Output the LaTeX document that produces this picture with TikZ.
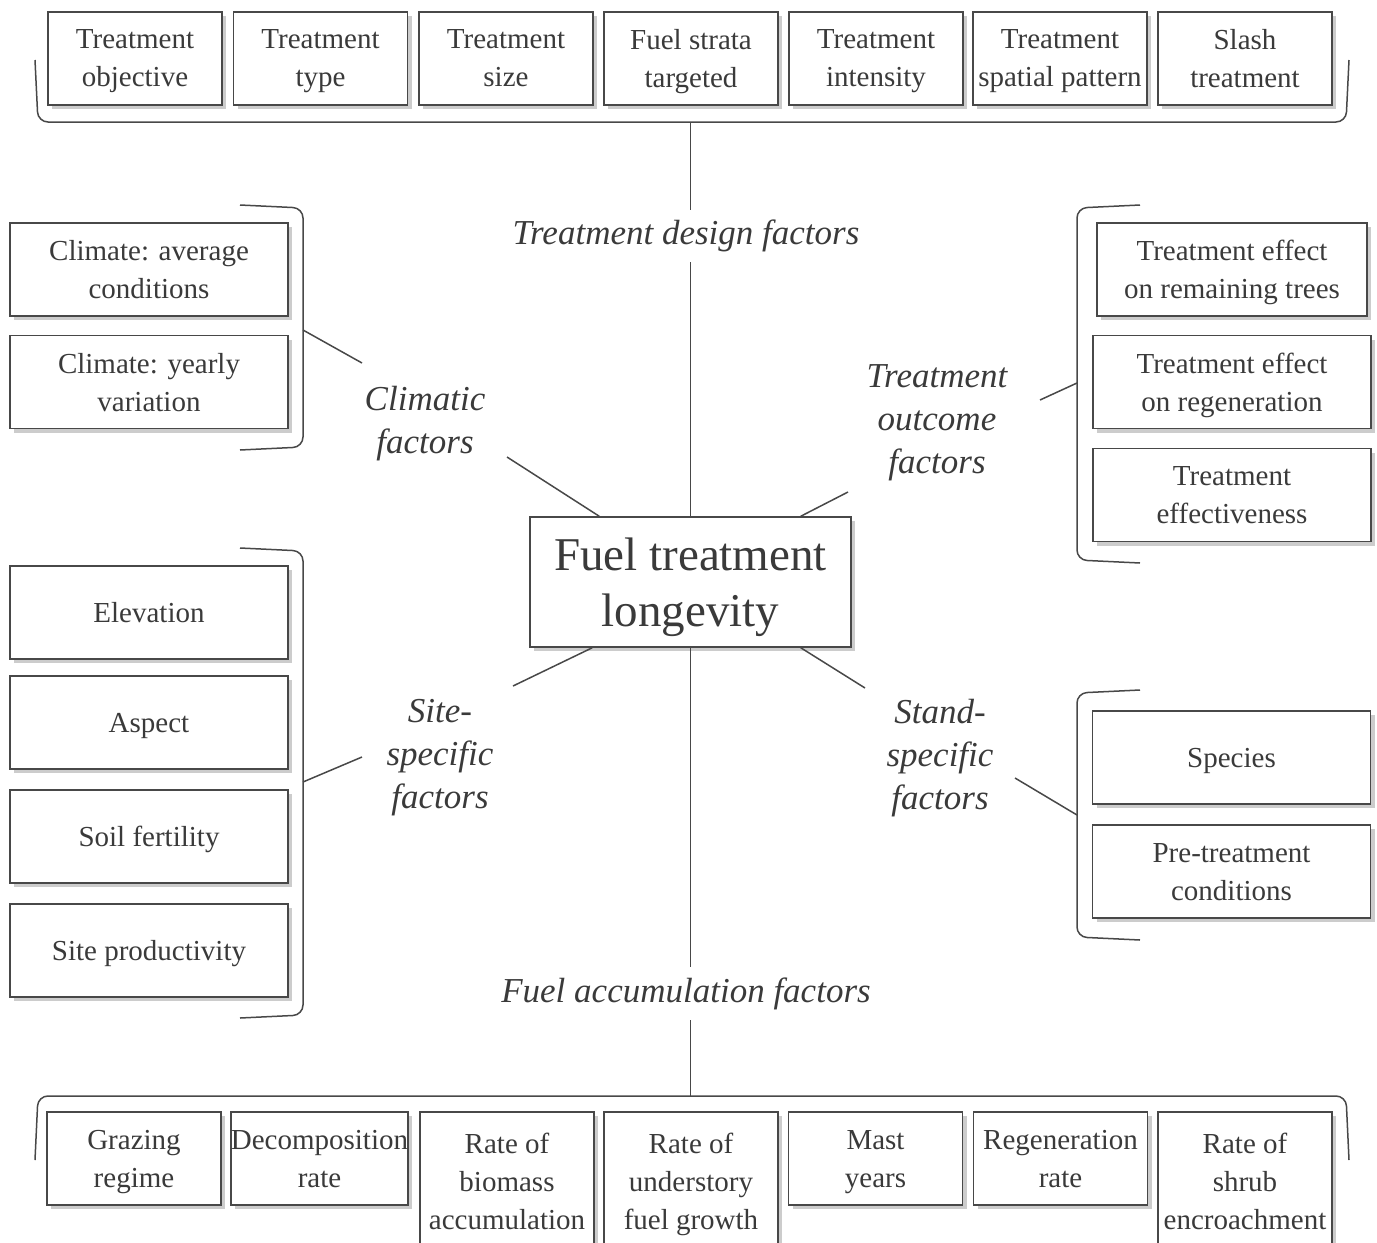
\documentclass[tikz,border=0pt]{standalone}
\usepackage{fontspec}
\setmainfont{Liberation Serif}
\usepackage{xcolor}
\usepackage{tikz}
\usetikzlibrary{calc,shadows}
\definecolor{ink}{RGB}{58,58,58}
\definecolor{rule}{RGB}{72,72,72}
\tikzset{
  factor/.style={draw=rule, fill=white, line width=0.75pt, align=center, text=ink, inner sep=0pt,
    font=\fontsize{14.5}{19}\selectfont, text depth=0pt,
    drop shadow={shadow xshift=2pt, shadow yshift=-2.2pt, fill=black!50, opacity=0.4}},
  rowbox/.style={factor, minimum width=87pt, minimum height=46.5pt},   % top and bottom rows
  sidebox/.style={factor, minimum width=139pt, minimum height=46.5pt}, % side columns
  hubbox/.style={factor, minimum width=160.5pt, minimum height=65pt,
    font=\fontsize{23.5}{28}\selectfont},                               % centre box
  group/.style={text=ink, align=center, inner sep=0pt,
    font=\itshape\fontsize{17.5}{21.5}\selectfont},                     % italic factor names
  link/.style={draw=rule, line width=0.75pt},
  brace/.style={link, rounded corners=5pt}
}
\newcommand{\RightBrace}[3]{% x, top y, bottom y
  \draw[brace] ({#1-63},#2) -- (#1,{#2+3}) -- (#1,{#3-3}) -- ({#1-63},#3);}
\newcommand{\LeftBrace}[3]{%
  \draw[brace] ({#1+63},#2) -- (#1,{#2+3}) -- (#1,{#3-3}) -- ({#1+63},#3);}

\begin{document}
\begin{tikzpicture}[x=0.5pt, y=-0.5pt]
  \useasboundingbox (0,0) rectangle (1377,1243);
  % Centre
  \node[hubbox] (core) at (690.5,582) {Fuel treatment\\longevity};
  % Treatment design (top row)
  \foreach \n/\x/\txt in {1/135/{Treatment\\objective}, 2/320.5/{Treatment\\type},
      3/506/{Treatment\\size}, 4/691/{Fuel strata\\targeted}, 5/876/{Treatment\\intensity},
      6/1060/{Treatment\\spatial pattern}, 7/1245/{Slash\\treatment}}{%
    \node[rowbox] (top\n) at (\x,58.5) {\txt};
  }
  \draw[brace] (35,60) -- (38,122) -- (1346,122) -- (1349,60);
  \coordinate (topbar) at (690.5,122);
  \node[group, minimum height=32pt] (design) at (686,236) {Treatment design factors};
  \draw[link, shorten >=-3pt] (topbar) -- (topbar |- design.north);
  \draw[link, shorten <=-3pt] (core.north |- design.south) -- (core.north);
  % Fuel accumulation (bottom row)
  \foreach \n/\x/\y/\h/\txt in {1/134/1158.5/46.5/{Grazing\\regime}, 2/319.5/1158.5/46.5/{Decomposition\\rate},
      3/507/1181/69/{Rate of\\biomass\\accumulation}, 4/691/1181/69/{Rate of\\understory\\fuel growth},
      5/875.5/1158.5/46.5/{Mast\\years}, 6/1060.5/1158.5/46.5/{Regeneration\\rate},
      7/1245/1181/69/{Rate of\\shrub\\encroachment}}{%
    \node[rowbox, minimum height=\h pt] (bot\n) at (\x,\y) {\txt};
  }
  \draw[brace] (35,1160) -- (38,1096) -- (1346,1096) -- (1349,1160);
  \coordinate (botbar) at (690.5,1096);
  \node[group, minimum height=33pt] (accum) at (686,994) {Fuel accumulation factors};
  \draw[link, shorten >=-3pt] (core.south) -- (core.south |- accum.north);
  \draw[link, shorten <=-3.5pt] (botbar |- accum.south) -- (botbar);
  % Climatic factors
  \node[sidebox] (clim1) at (149,269.5) {Climate: average\\conditions};
  \node[sidebox] (clim2) at (149,382) {Climate: yearly\\variation};
  \RightBrace{303}{205}{450}
  \node[group] (clim) at (425,424) {Climatic\\factors};
  \coordinate (climB) at (303,330);
  \coordinate (climL) at (362,363);
  \coordinate (climC) at (507,457);
  \draw[link] (climB) -- (climL);
  \draw[link] (climC) -- ($(core.north west)+(70,0)$);
  % Treatment outcome factors
  \node[sidebox, minimum width=135pt] (out1) at (1232,269.5) {Treatment effect\\on remaining trees};
  \node[sidebox] (out2) at (1232,382) {Treatment effect\\on regeneration};
  \node[sidebox] (out3) at (1232,495) {Treatment\\effectiveness};
  \LeftBrace{1077}{205}{563}
  \node[group] (outc) at (937,423) {Treatment\\outcome\\factors};
  \coordinate (outcB) at (1077,383);
  \coordinate (outcL) at (1040,400);
  \coordinate (outcC) at (848,492);
  \draw[link] (outcB) -- (outcL);
  \draw[link] (outcC) -- ($(core.north east)+(-51,0)$);
  % Site-specific factors
  \node[sidebox] (site1) at (149,612.5) {Elevation};
  \node[sidebox] (site2) at (149,722.5) {Aspect};
  \node[sidebox] (site3) at (149,836.5) {Soil fertility};
  \node[sidebox] (site4) at (149,950.5) {Site productivity};
  \RightBrace{303}{548}{1018}
  \node[group] (site) at (440,758) {Site-\\specific\\factors};
  \coordinate (siteB) at (303,782);
  \coordinate (siteL) at (362,757);
  \coordinate (siteC) at (513,686);
  \draw[link] (siteB) -- (siteL);
  \draw[link] (siteC) -- ($(core.south west)+(63,0)$);
  % Stand-specific factors
  \node[sidebox] (stand1) at (1231.5,757.5) {Species};
  \node[sidebox] (stand2) at (1231.5,871.5) {Pre-treatment\\conditions};
  \LeftBrace{1077}{690}{940}
  \node[group] (stand) at (940,758) {Stand-\\specific\\factors};
  \coordinate (standB) at (1077,815);
  \coordinate (standL) at (1015,778);
  \coordinate (standC) at (865,688);
  \draw[link] (standB) -- (standL);
  \draw[link] (standC) -- ($(core.south east)+(-51,0)$);
\end{tikzpicture}
\end{document}
